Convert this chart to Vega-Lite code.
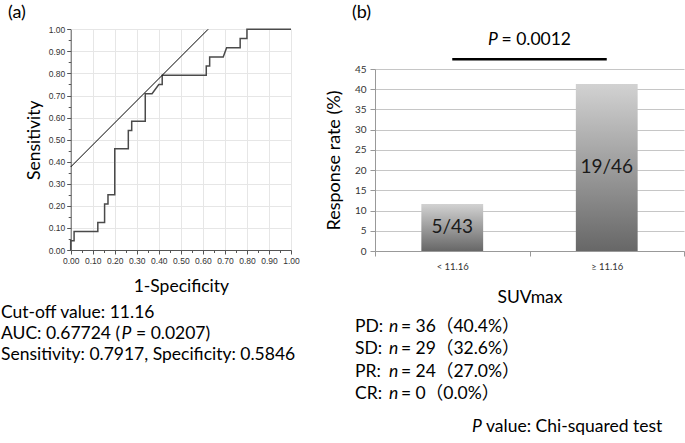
{
  "$schema": "https://vega.github.io/schema/vega-lite/v6.json",
  "width": 685,
  "height": 443,
  "autosize": "none",
  "padding": 0,
  "background": "white",
  "config": {"view": {"stroke": null}, "font": "Lato", "text": {"font": "Lato, Noto Sans CJK JP", "color": "#000"}},
  "datasets": {
    "roc": [
      {"i": 0, "fpr": 0, "tpr": 0},
      {"i": 1, "fpr": 0, "tpr": 0.04167},
      {"i": 2, "fpr": 0.01538, "tpr": 0.04167},
      {"i": 3, "fpr": 0.01538, "tpr": 0.08333},
      {"i": 4, "fpr": 0.12308, "tpr": 0.08333},
      {"i": 5, "fpr": 0.12308, "tpr": 0.125},
      {"i": 6, "fpr": 0.15385, "tpr": 0.125},
      {"i": 7, "fpr": 0.15385, "tpr": 0.20833},
      {"i": 8, "fpr": 0.16923, "tpr": 0.20833},
      {"i": 9, "fpr": 0.16923, "tpr": 0.25},
      {"i": 10, "fpr": 0.2, "tpr": 0.25},
      {"i": 11, "fpr": 0.2, "tpr": 0.45833},
      {"i": 12, "fpr": 0.26154, "tpr": 0.45833},
      {"i": 13, "fpr": 0.26154, "tpr": 0.54167},
      {"i": 14, "fpr": 0.27692, "tpr": 0.54167},
      {"i": 15, "fpr": 0.27692, "tpr": 0.58333},
      {"i": 16, "fpr": 0.33846, "tpr": 0.58333},
      {"i": 17, "fpr": 0.33846, "tpr": 0.70833},
      {"i": 18, "fpr": 0.36923, "tpr": 0.70833},
      {"i": 19, "fpr": 0.4, "tpr": 0.75},
      {"i": 20, "fpr": 0.41538, "tpr": 0.75},
      {"i": 21, "fpr": 0.41538, "tpr": 0.79167},
      {"i": 22, "fpr": 0.61538, "tpr": 0.79167},
      {"i": 23, "fpr": 0.61538, "tpr": 0.83333},
      {"i": 24, "fpr": 0.63077, "tpr": 0.83333},
      {"i": 25, "fpr": 0.63077, "tpr": 0.875},
      {"i": 26, "fpr": 0.69231, "tpr": 0.875},
      {"i": 27, "fpr": 0.70769, "tpr": 0.91667},
      {"i": 28, "fpr": 0.76923, "tpr": 0.91667},
      {"i": 29, "fpr": 0.76923, "tpr": 0.95833},
      {"i": 30, "fpr": 0.8, "tpr": 0.95833},
      {"i": 31, "fpr": 0.8, "tpr": 1},
      {"i": 32, "fpr": 1, "tpr": 1}
    ],
    "tangent": [
      {"fpr": 0, "tpr": 0.3763},
      {"fpr": 0.6237, "tpr": 1}
    ],
    "bars": [
      {"group": "< 11.16", "rate": 11.63, "label": "5/43"},
      {"group": "≥ 11.16", "rate": 41.3, "label": "19/46"}
    ],
    "pval": [
      {"from": "< 11.16", "to": "≥ 11.16"}
    ],
    "one": [{}]
  },
  "layer": [
    {
      "data": {"name": "roc"},
      "mark": {"type": "line", "color": "#4a4a4a", "strokeWidth": 1.5},
      "encoding": {
        "x": {
          "field": "fpr", "type": "quantitative",
          "scale": {"domain": [0, 1], "range": [70.7, 291], "nice": false, "zero": false},
          "axis": {
            "orient": "bottom", "offset": -193,
            "values": [0, 0.1, 0.2, 0.3, 0.4, 0.5, 0.6, 0.7, 0.8, 0.9, 1],
            "format": ".2f", "labelFont": "Liberation Sans", "labelFontSize": 8.5, "labelColor": "#333",
            "labelPadding": 2, "labelFlush": false, "labelOverlap": false,
            "tickSize": 4, "tickColor": "#555", "domainColor": "#555", "grid": false,
            "title": "1-Specificity", "titleFont": "Lato", "titleFontSize": 17.5, "titleFontWeight": "normal",
            "titleColor": "#000", "titlePadding": 13
          }
        },
        "y": {
          "field": "tpr", "type": "quantitative",
          "scale": {"domain": [0, 1], "range": [250, 29.3], "nice": false, "zero": false},
          "axis": {
            "orient": "left", "offset": -70.7,
            "values": [0, 0.1, 0.2, 0.3, 0.4, 0.5, 0.6, 0.7, 0.8, 0.9, 1],
            "format": ".2f", "labelFont": "Liberation Sans", "labelFontSize": 8.5, "labelColor": "#333",
            "labelPadding": 2, "labelOverlap": false,
            "tickSize": 4, "tickColor": "#555", "domainColor": "#555",
            "grid": true, "gridColor": "#e6e6e6",
            "title": "Sensitivity", "titleFont": "Lato", "titleFontSize": 17.5, "titleFontWeight": "normal",
            "titleColor": "#000", "titlePadding": 5
          }
        },
        "order": {"field": "i", "type": "quantitative"}
      }
    },
    {
      "data": {"name": "tangent"},
      "mark": {"type": "line", "color": "#000", "strokeWidth": 1},
      "encoding": {
        "x": {
          "field": "fpr", "type": "quantitative",
          "scale": {"domain": [0, 1], "range": [70.7, 291], "nice": false, "zero": false},
          "axis": {
            "orient": "bottom", "offset": -193,
            "values": [0.05, 0.15, 0.25, 0.35, 0.45, 0.55, 0.65, 0.75, 0.85, 0.95],
            "labels": false, "domain": false, "grid": false, "tickSize": 2.5, "tickColor": "#555", "title": null
          }
        },
        "y": {
          "field": "tpr", "type": "quantitative",
          "scale": {"domain": [0, 1], "range": [250, 29.3], "nice": false, "zero": false},
          "axis": {
            "orient": "left", "offset": -70.7,
            "values": [0.05, 0.15, 0.25, 0.35, 0.45, 0.55, 0.65, 0.75, 0.85, 0.95],
            "labels": false, "domain": false, "grid": false, "tickSize": 2.5, "tickColor": "#555", "title": null
          }
        }
      }
    },
    {
      "data": {"name": "one"},
      "mark": {"type": "text", "text": "(a)", "align": "left", "baseline": "middle", "fontSize": 18},
      "encoding": {
        "x": {
          "datum": -0.2846, "type": "quantitative",
          "scale": {"domain": [0, 1], "range": [70.7, 291], "nice": false, "zero": false},
          "axis": {
            "orient": "top", "offset": -29.3,
            "values": [0.1, 0.2, 0.3, 0.4, 0.5, 0.6, 0.7, 0.8, 0.9, 1],
            "labels": false, "domain": false, "ticks": false, "grid": true, "gridColor": "#e6e6e6", "title": null
          }
        },
        "y": {"datum": 1.0739, "type": "quantitative", "scale": {"domain": [0, 1], "range": [250, 29.3], "nice": false, "zero": false}, "axis": null}
      }
    },
    {
      "data": {"name": "one"},
      "mark": {"type": "text", "text": ["Cut-off value: 11.16", "AUC: 0.67724 (", "Sensitivity: 0.7917, Specificity: 0.5846"], "align": "left", "baseline": "alphabetic", "fontSize": 17.5, "lineHeight": 21},
      "encoding": {
        "x": {"datum": -0.3164, "type": "quantitative", "scale": {"domain": [0, 1], "range": [70.7, 291], "nice": false, "zero": false}, "axis": null},
        "y": {"datum": -0.3081, "type": "quantitative", "scale": {"domain": [0, 1], "range": [250, 29.3], "nice": false, "zero": false}, "axis": null}
      }
    },
    {
      "data": {"name": "one"},
      "mark": {"type": "text", "text": "P", "align": "left", "baseline": "alphabetic", "fontSize": 17.5, "fontStyle": "italic"},
      "encoding": {
        "x": {"datum": 0.2306, "type": "quantitative", "scale": {"domain": [0, 1], "range": [70.7, 291], "nice": false, "zero": false}, "axis": null},
        "y": {"datum": -0.4033, "type": "quantitative", "scale": {"domain": [0, 1], "range": [250, 29.3], "nice": false, "zero": false}, "axis": null}
      }
    },
    {
      "data": {"name": "one"},
      "mark": {"type": "text", "text": "= 0.0207)", "align": "left", "baseline": "alphabetic", "fontSize": 17.5},
      "encoding": {
        "x": {"datum": 0.2964, "type": "quantitative", "scale": {"domain": [0, 1], "range": [70.7, 291], "nice": false, "zero": false}, "axis": null},
        "y": {"datum": -0.4033, "type": "quantitative", "scale": {"domain": [0, 1], "range": [250, 29.3], "nice": false, "zero": false}, "axis": null}
      }
    },
    {
      "data": {"name": "bars"},
      "mark": {
        "type": "bar", "width": {"band": 0.4},
        "color": {"gradient": "linear", "x1": 0, "y1": 0, "x2": 0, "y2": 1,
          "stops": [{"offset": 0, "color": "#d2d2d2"}, {"offset": 1, "color": "#676767"}]}
      },
      "encoding": {
        "x": {
          "field": "group", "type": "nominal", "sort": null,
          "scale": {"domain": ["< 11.16", "≥ 11.16"], "range": [375, 684], "paddingInner": 0, "paddingOuter": 0},
          "axis": {
            "orient": "bottom", "offset": -192, "tickBand": "extent", "labelAngle": 0,
            "labelFont": "Lato", "labelFontSize": 9.5, "labelColor": "#333", "labelPadding": 5,
            "tickSize": 5, "tickColor": "#999", "domainColor": "#999", "grid": false,
            "title": "SUVmax", "titleFont": "Lato", "titleFontSize": 17.5, "titleFontWeight": "normal",
            "titleColor": "#000", "titlePadding": 18
          }
        },
        "y": {
          "field": "rate", "type": "quantitative",
          "scale": {"domain": [0, 45], "range": [251, 69], "nice": false, "zero": false},
          "axis": {
            "orient": "left", "offset": -375,
            "values": [0, 5, 10, 15, 20, 25, 30, 35, 40, 45],
            "labelFont": "Lato", "labelFontSize": 10, "labelColor": "#333", "labelPadding": 4,
            "tickSize": 5, "tickColor": "#999", "domainColor": "#999",
            "grid": true, "gridColor": "#c6c6c6",
            "title": "Response rate (%)", "titleFont": "Lato", "titleFontSize": 18, "titleFontWeight": "normal",
            "titleColor": "#000", "titlePadding": 11
          }
        }
      }
    },
    {
      "data": {"name": "bars"},
      "transform": [{"calculate": "datum.rate / 2", "as": "mid"}],
      "mark": {"type": "text", "fontSize": 19, "color": "#1a1a1a", "baseline": "middle"},
      "encoding": {
        "x": {"field": "group", "type": "nominal", "sort": null, "scale": {"domain": ["< 11.16", "≥ 11.16"], "range": [375, 684], "paddingInner": 0, "paddingOuter": 0}, "axis": null},
        "y": {"field": "mid", "type": "quantitative", "scale": {"domain": [0, 45], "range": [251, 69], "nice": false, "zero": false}, "axis": null},
        "text": {"field": "label"}
      }
    },
    {
      "data": {"name": "pval"},
      "mark": {"type": "rule", "strokeWidth": 2.5, "color": "#000"},
      "encoding": {
        "x": {"field": "from", "type": "nominal", "scale": {"domain": ["< 11.16", "≥ 11.16"], "range": [375, 684], "paddingInner": 0, "paddingOuter": 0}, "axis": null},
        "x2": {"field": "to"},
        "y": {"datum": 47.4, "type": "quantitative", "scale": {"domain": [0, 45], "range": [251, 69], "nice": false, "zero": false}, "axis": null}
      }
    },
    {
      "data": {"name": "one"},
      "mark": {"type": "text", "text": "(b)", "align": "left", "baseline": "middle", "fontSize": 18},
      "encoding": {
        "x": {"datum": -0.0744, "type": "quantitative", "scale": {"domain": [0, 1], "range": [375, 684], "nice": false, "zero": false}, "axis": null},
        "y": {"datum": 58.85, "type": "quantitative", "scale": {"domain": [0, 45], "range": [251, 69], "nice": false, "zero": false}, "axis": null}
      }
    },
    {
      "data": {"name": "one"},
      "mark": {"type": "text", "text": "P", "align": "left", "baseline": "alphabetic", "fontSize": 17.5, "fontStyle": "italic"},
      "encoding": {
        "x": {"datum": 0.3657, "type": "quantitative", "scale": {"domain": [0, 1], "range": [375, 684], "nice": false, "zero": false}, "axis": null},
        "y": {"datum": 50.93, "type": "quantitative", "scale": {"domain": [0, 45], "range": [251, 69], "nice": false, "zero": false}, "axis": null}
      }
    },
    {
      "data": {"name": "one"},
      "mark": {"type": "text", "text": "= 0.0012", "align": "left", "baseline": "alphabetic", "fontSize": 17.5},
      "encoding": {
        "x": {"datum": 0.4094, "type": "quantitative", "scale": {"domain": [0, 1], "range": [375, 684], "nice": false, "zero": false}, "axis": null},
        "y": {"datum": 50.93, "type": "quantitative", "scale": {"domain": [0, 45], "range": [251, 69], "nice": false, "zero": false}, "axis": null}
      }
    },
    {
      "data": {"name": "one"},
      "mark": {"type": "text", "text": ["PD:", "SD:", "PR:", "CR:"], "align": "left", "baseline": "alphabetic", "fontSize": 17.5, "lineHeight": 22.6},
      "encoding": {
        "x": {"datum": -0.0647, "type": "quantitative", "scale": {"domain": [0, 1], "range": [375, 684], "nice": false, "zero": false}, "axis": null},
        "y": {"datum": -19.95, "type": "quantitative", "scale": {"domain": [0, 45], "range": [251, 69], "nice": false, "zero": false}, "axis": null}
      }
    },
    {
      "data": {"name": "one"},
      "mark": {"type": "text", "text": ["n", "n", "n", "n"], "align": "left", "baseline": "alphabetic", "fontSize": 17.5, "fontStyle": "italic", "lineHeight": 22.6},
      "encoding": {
        "x": {"datum": 0.0453, "type": "quantitative", "scale": {"domain": [0, 1], "range": [375, 684], "nice": false, "zero": false}, "axis": null},
        "y": {"datum": -19.95, "type": "quantitative", "scale": {"domain": [0, 45], "range": [251, 69], "nice": false, "zero": false}, "axis": null}
      }
    },
    {
      "data": {"name": "one"},
      "mark": {"type": "text", "text": ["= 36（40.4%）", "= 29（32.6%）", "= 24（27.0%）", "= 0（0.0%）"], "align": "left", "baseline": "alphabetic", "fontSize": 17.5, "lineHeight": 22.6},
      "encoding": {
        "x": {"datum": 0.0841, "type": "quantitative", "scale": {"domain": [0, 1], "range": [375, 684], "nice": false, "zero": false}, "axis": null},
        "y": {"datum": -19.95, "type": "quantitative", "scale": {"domain": [0, 45], "range": [251, 69], "nice": false, "zero": false}, "axis": null}
      }
    },
    {
      "data": {"name": "one"},
      "mark": {"type": "text", "text": "P", "align": "left", "baseline": "alphabetic", "fontSize": 17.5, "fontStyle": "italic"},
      "encoding": {
        "x": {"datum": 0.3139, "type": "quantitative", "scale": {"domain": [0, 1], "range": [375, 684], "nice": false, "zero": false}, "axis": null},
        "y": {"datum": -44.75, "type": "quantitative", "scale": {"domain": [0, 45], "range": [251, 69], "nice": false, "zero": false}, "axis": null}
      }
    },
    {
      "data": {"name": "one"},
      "mark": {"type": "text", "text": "value: Chi-squared test", "align": "left", "baseline": "alphabetic", "fontSize": 17.5},
      "encoding": {
        "x": {"datum": 0.3592, "type": "quantitative", "scale": {"domain": [0, 1], "range": [375, 684], "nice": false, "zero": false}, "axis": null},
        "y": {"datum": -44.75, "type": "quantitative", "scale": {"domain": [0, 45], "range": [251, 69], "nice": false, "zero": false}, "axis": null}
      }
    }
  ],
  "resolve": {"scale": {"x": "independent", "y": "independent"}}
}
